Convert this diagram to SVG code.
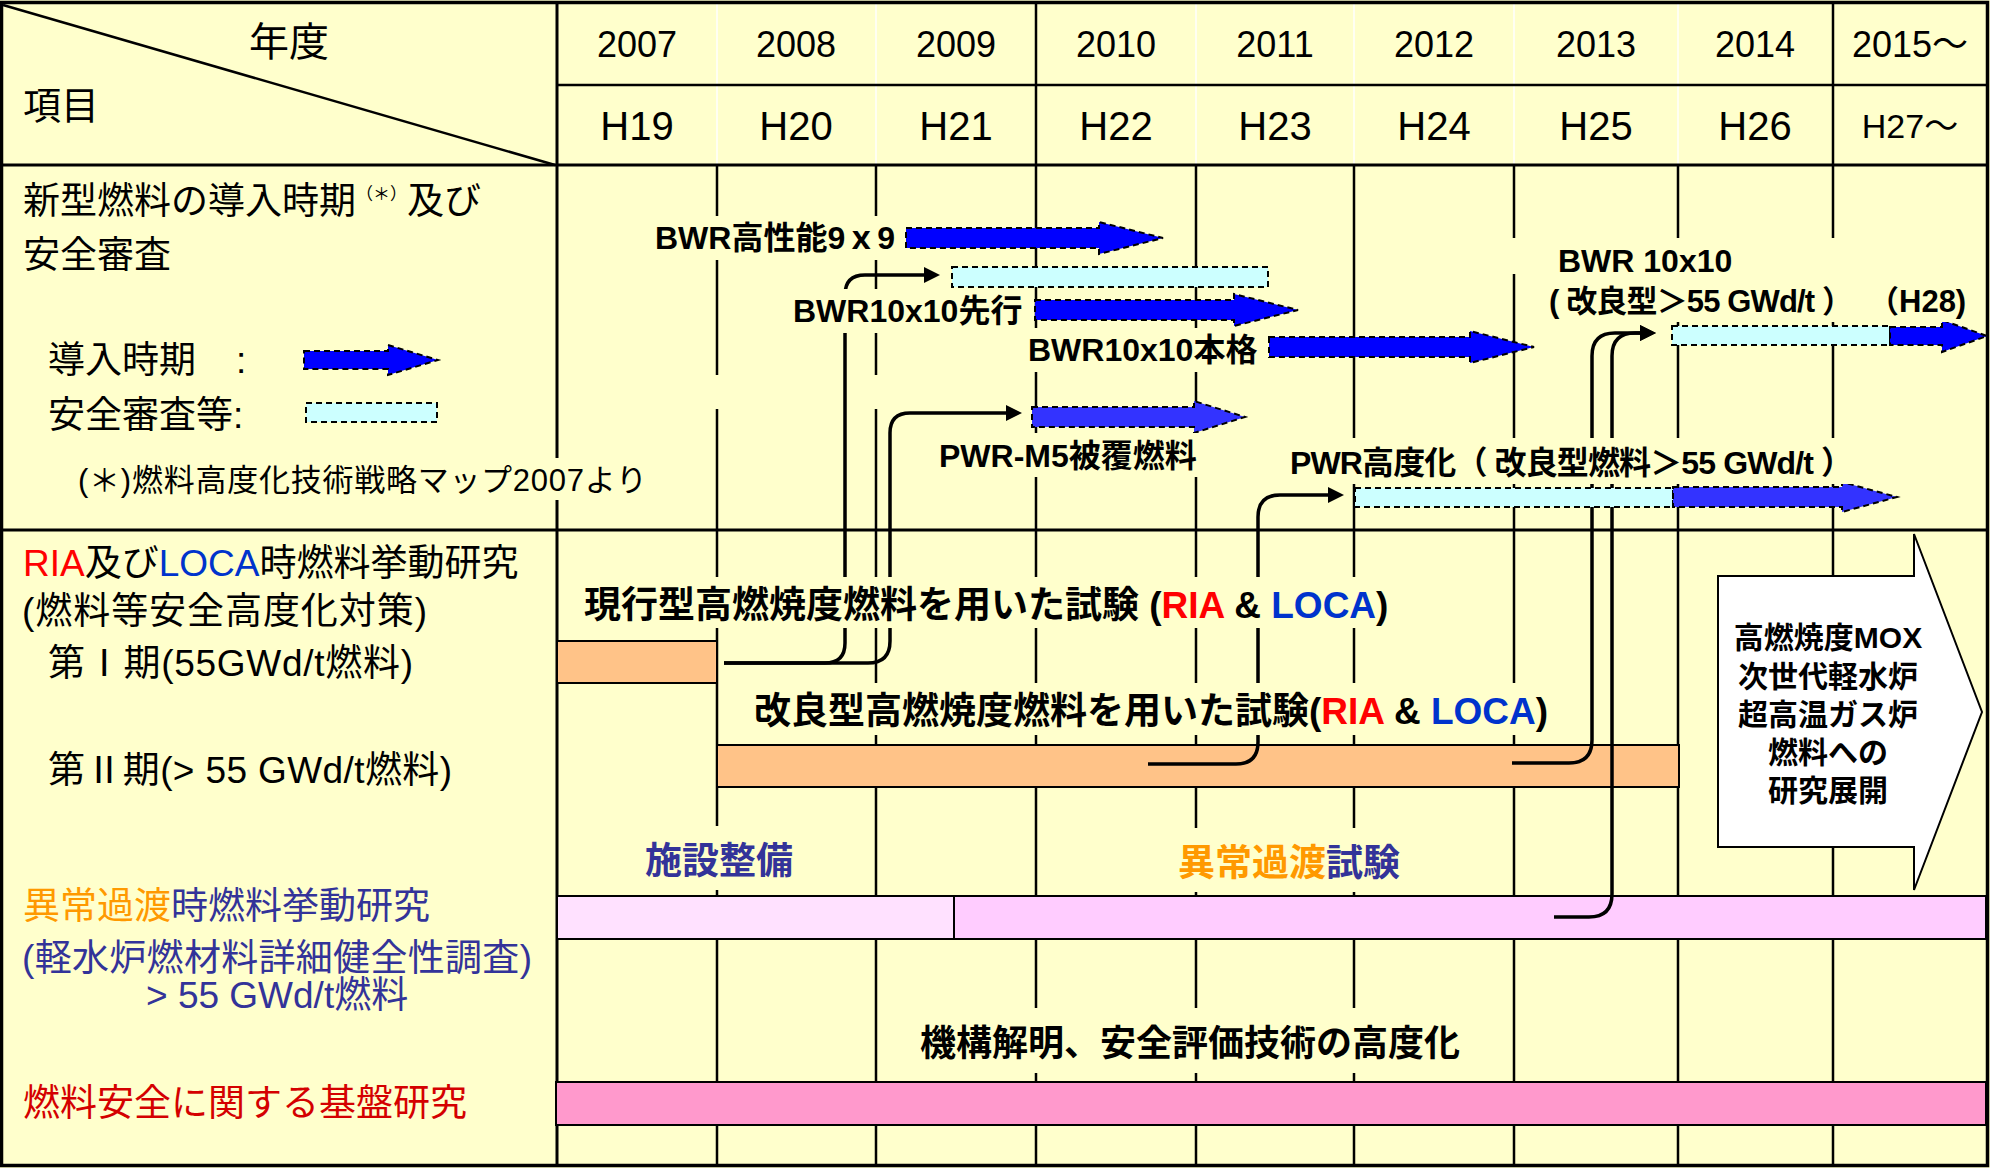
<svg xmlns="http://www.w3.org/2000/svg" width="1990" height="1168" viewBox="0 0 1990 1168">
<defs>
<style>
.t{font-family:"Liberation Sans","Noto Sans CJK JP",sans-serif;fill:#000}
.b{font-weight:bold}
.gl{stroke:#000;stroke-width:2.5}
.wl{stroke:#fff;stroke-width:1.5}
.bg{fill:#ffffcc}
.dash{stroke:#000;stroke-width:2;stroke-dasharray:6 4}
.bar{stroke:#000;stroke-width:2}
.conn{fill:none;stroke:#000;stroke-width:3.5;marker-end:url(#ah)}
.blue{fill:#0000ff}
.blue2{fill:#3333ff}
.lb{fill:#ccffff}
.red{fill:#ff0000}
.loca{fill:#0033cc}
.pur{fill:#333399}
.org{fill:#ff9900}
</style>
<marker id="ah" markerUnits="userSpaceOnUse" markerWidth="18" markerHeight="16" refX="4" refY="8" orient="auto">
<path d="M0,0 L16,8 L0,16 Z" fill="#000"/>
</marker>
</defs>
<rect x="0" y="0" width="1990" height="1168" fill="#ffffcc"/>

<g id="grid">
<line class="wl" x1="717" y1="4" x2="717" y2="165"/>
<line class="wl" x1="876" y1="4" x2="876" y2="165"/>
<line class="wl" x1="1196" y1="4" x2="1196" y2="165"/>
<line class="wl" x1="1354" y1="4" x2="1354" y2="165"/>
<line class="wl" x1="1514" y1="4" x2="1514" y2="165"/>
<line class="wl" x1="1678" y1="4" x2="1678" y2="165"/>
<line class="gl" x1="1036" y1="3" x2="1036" y2="165"/>
<line class="gl" x1="1833" y1="3" x2="1833" y2="165"/>
<line class="gl" x1="717" y1="165" x2="717" y2="1166"/>
<line class="gl" x1="876" y1="165" x2="876" y2="1166"/>
<line class="gl" x1="1036" y1="165" x2="1036" y2="1166"/>
<line class="gl" x1="1196" y1="165" x2="1196" y2="1166"/>
<line class="gl" x1="1354" y1="165" x2="1354" y2="1166"/>
<line class="gl" x1="1514" y1="165" x2="1514" y2="1166"/>
<line class="gl" x1="1678" y1="165" x2="1678" y2="1166"/>
<line class="gl" x1="1833" y1="165" x2="1833" y2="1166"/>
<line class="gl" x1="557" y1="85" x2="1988" y2="85"/>
<line stroke="#000" stroke-width="3" x1="0" y1="165" x2="1988" y2="165"/>
<line stroke="#000" stroke-width="3" x1="0" y1="530" x2="1988" y2="530"/>
<line stroke="#000" stroke-width="3" x1="557" y1="2" x2="557" y2="1166"/>
<line stroke="#000" stroke-width="2.5" x1="3" y1="5" x2="555" y2="165"/>
<rect x="1.5" y="2.5" width="1986" height="1163" fill="none" stroke="#000" stroke-width="3.5"/>
<rect class="bg" x="700" y="375" width="200" height="34"/>
</g>

<g id="header">
<text class="t" x="289" y="56" font-size="40" text-anchor="middle">年度</text>
<text class="t" x="23" y="119" font-size="38">項目</text>
<g font-size="36" text-anchor="middle">
<text class="t" x="637" y="57">2007</text>
<text class="t" x="796" y="57">2008</text>
<text class="t" x="956" y="57">2009</text>
<text class="t" x="1116" y="57">2010</text>
<text class="t" x="1275" y="57">2011</text>
<text class="t" x="1434" y="57">2012</text>
<text class="t" x="1596" y="57">2013</text>
<text class="t" x="1755" y="57">2014</text>
<text class="t" x="1910" y="57">2015～</text>
</g>
<g font-size="40" text-anchor="middle">
<text class="t" x="637" y="140">H19</text>
<text class="t" x="796" y="140">H20</text>
<text class="t" x="956" y="140">H21</text>
<text class="t" x="1116" y="140">H22</text>
<text class="t" x="1275" y="140">H23</text>
<text class="t" x="1434" y="140">H24</text>
<text class="t" x="1596" y="140">H25</text>
<text class="t" x="1755" y="140">H26</text>
<text class="t" x="1910" y="138" font-size="34">H27～</text>
</g>
</g>

<g id="left-labels" font-size="37">
<text class="t" x="23" y="214">新型燃料の導入時期<tspan font-size="17" dy="-14">（＊）</tspan><tspan dy="14">及び</tspan></text>
<text class="t" x="23" y="268">安全審査</text>
<text class="t" x="48" y="373">導入時期</text>
<text class="t" x="236" y="373">:</text>
<text class="t" x="48" y="428">安全審査等:</text>
<g id="legend-arrow"><path class="blue dash" d="M304,351 H388 V345 L438,360 L388,375 V369 H304 Z"/></g>
<g id="legend-rect"><rect class="lb dash" x="306" y="403" width="131" height="19"/></g>
<g id="note">
<rect class="bg" x="70" y="458" width="590" height="42"/>
<text class="t" x="78" y="491" font-size="31" textLength="569" lengthAdjust="spacing">(＊)燃料高度化技術戦略マップ2007より</text>
</g>
<text class="t" x="23" y="576"><tspan class="red">RIA</tspan>及び<tspan class="loca">LOCA</tspan>時燃料挙動研究</text>
<text class="t" x="22" y="624" textLength="405" lengthAdjust="spacing">(燃料等安全高度化対策)</text>
<text class="t" x="48" y="676" textLength="365" lengthAdjust="spacing">第Ⅰ期(55GWd/t燃料)</text>
<text class="t" x="48" y="783" textLength="404" lengthAdjust="spacing">第Ⅱ期(&gt; 55 GWd/t燃料)</text>
<text class="t" x="23" y="919"><tspan class="org">異常過渡</tspan><tspan class="pur">時燃料挙動研究</tspan></text>
<text class="t pur" x="22" y="971" textLength="510" lengthAdjust="spacing">(軽水炉燃材料詳細健全性調査)</text>
<text class="t pur" x="146" y="1008">&gt; 55 GWd/t燃料</text>
<text class="t" x="23" y="1116" style="fill:#d40000">燃料安全に関する基盤研究</text>
</g>

<g id="lower-bars">
<g id="phase1-bar"><rect class="bar" x="557" y="641" width="160" height="42" fill="#ffc388"/></g>
<g id="phase2-bar"><rect class="bar" x="717" y="745" width="962" height="42" fill="#ffc388"/></g>
<g id="facility-bar"><rect class="bar" x="557" y="896" width="397" height="43" fill="#ffe1ff"/></g>
<g id="transient-bar"><rect class="bar" x="954" y="896" width="1032" height="43" fill="#ffccff"/></g>
<g id="basic-bar"><rect class="bar" x="556" y="1082" width="1430" height="43" fill="#ff99cc"/></g>
</g>

<g id="connectors">
<path class="conn" d="M724,663 H825 Q845,663 845,643 V295 Q845,275 865,275 H928"/>
<path class="conn" d="M724,663 H868 Q890,663 890,641 V433 Q890,413 910,413 H1010"/>
<path class="conn" d="M1148,764 H1236 Q1258,764 1258,742 V517 Q1258,495 1280,495 H1332"/>
<path class="conn" d="M1512,763 H1569 Q1592,763 1592,740 V356 Q1592,333 1615,333 H1644"/>
<path class="conn" d="M1554,917 H1589 Q1612,917 1612,894 V356 Q1612,333 1635,333 H1644"/>
</g>

<g id="top-bars">
<g id="bwr9x9-arrow"><path class="blue dash" d="M906,228 H1099 V222 L1163,238 L1099,254 V248 H906 Z"/></g>
<g id="bwr10x10-lead-review"><rect class="lb dash" x="952" y="267" width="316" height="20"/></g>
<g id="bwr10x10-lead-arrow"><path class="blue dash" d="M1035,300 H1234 V294 L1298,310 L1234,326 V320 H1035 Z"/></g>
<g id="bwr10x10-full-arrow"><path class="blue dash" d="M1269,337 H1470 V331 L1534,347 L1470,363 V357 H1269 Z"/></g>
<g id="pwr-m5-arrow"><path class="blue2 dash" d="M1032,407 H1194 V401 L1245,417 L1194,433 V427 H1032 Z"/></g>
<g id="pwr-adv-review"><rect class="lb dash" x="1355" y="488" width="318" height="19"/></g>
<g id="pwr-adv-arrow"><path class="blue2 dash" d="M1673,487 H1842 V482 L1897,497 L1842,512 V507 H1673 Z"/></g>
<g id="bwr-imp-review"><rect class="lb dash" x="1672" y="326" width="218" height="19"/></g>
<g id="bwr-imp-arrow"><path class="blue dash" d="M1890,327 H1942 V320 L1987,336 L1942,352 V345 H1890 Z"/></g>
</g>

<g id="future-arrow">
<path d="M1718,576 H1914 V534 L1982,712 L1914,890 V847 H1718 Z" fill="#fff" stroke="#000" stroke-width="2"/>
<g class="b" font-size="30" text-anchor="middle">
<text class="t" x="1828" y="648">高燃焼度MOX</text>
<text class="t" x="1828" y="687">次世代軽水炉</text>
<text class="t" x="1828" y="725">超高温ガス炉</text>
<text class="t" x="1828" y="763">燃料への</text>
<text class="t" x="1828" y="801">研究展開</text>
</g>
</g>

<g id="chart-labels" class="b">
<g id="lbl-bwr9x9"><rect class="bg" x="650" y="216" width="250" height="44"/><text class="t b" x="655" y="249" font-size="32">BWR高性能9ｘ9</text></g>
<g id="lbl-bwr-lead"><rect class="bg" x="788" y="289" width="240" height="44"/><text class="t b" x="793" y="322" font-size="32">BWR10x10先行</text></g>
<g id="lbl-bwr-full"><rect class="bg" x="1022" y="328" width="240" height="44"/><text class="t b" x="1028" y="361" font-size="32">BWR10x10本格</text></g>
<g id="lbl-pwr-m5"><rect class="bg" x="934" y="433" width="268" height="44"/><text class="t b" x="939" y="467" font-size="32">PWR-M5被覆燃料</text></g>
<g id="lbl-pwr-adv"><rect class="bg" x="1284" y="438" width="590" height="46"/><text class="t b" x="1290" y="474" font-size="32" textLength="563" lengthAdjust="spacing">PWR高度化（ 改良型燃料＞55 GWd/t ）</text></g>
<g id="lbl-bwr-imp">
<rect class="bg" x="1505" y="238" width="480" height="36"/>
<rect class="bg" x="1540" y="274" width="445" height="48"/>
<text class="t b" x="1558" y="272" font-size="32">BWR 10x10</text>
<text class="t b" x="1549" y="312" font-size="31" textLength="304" lengthAdjust="spacing">( 改良型＞55 GWd/t ）</text>
<text class="t b" x="1868" y="312" font-size="31">（H28)</text>
</g>
<g id="lbl-phase1"><rect class="bg" x="575" y="577" width="830" height="51"/><text class="t b" x="584" y="618" font-size="37">現行型高燃焼度燃料を用いた試験 (<tspan class="red">RIA</tspan> &amp; <tspan class="loca">LOCA</tspan>)</text></g>
<g id="lbl-phase2"><rect class="bg" x="745" y="683" width="820" height="52"/><text class="t b" x="754" y="724" font-size="37">改良型高燃焼度燃料を用いた試験(<tspan class="red">RIA</tspan> &amp; <tspan class="loca">LOCA</tspan>)</text></g>
<g id="lbl-facility"><rect class="bg" x="632" y="826" width="172" height="64"/><text class="t b pur" x="645" y="874" font-size="37">施設整備</text></g>
<g id="lbl-transient"><rect class="bg" x="1166" y="828" width="246" height="64"/><text class="t b" x="1178" y="876" font-size="37"><tspan class="org">異常過渡</tspan><tspan class="pur">試験</tspan></text></g>
<g id="lbl-basic"><rect class="bg" x="910" y="1008" width="562" height="65"/><text class="t b" x="920" y="1056" font-size="36">機構解明、安全評価技術の高度化</text></g>
</g>
</svg>
